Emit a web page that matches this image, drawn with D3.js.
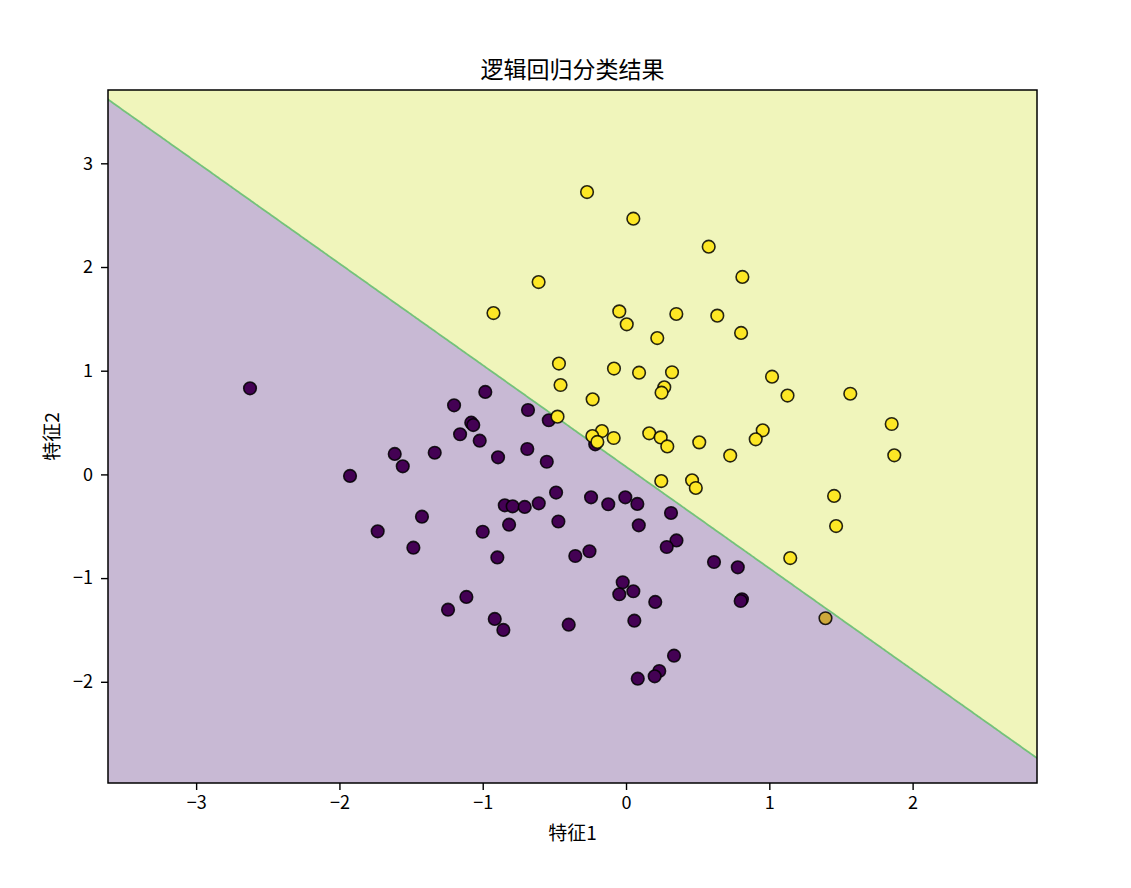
<!DOCTYPE html>
<html>
<head>
<meta charset="utf-8">
<script src="https://cdn.jsdelivr.net/npm/d3@7"></script>
<style>
  body { margin: 0; background: #fff; }
  text { font-family: "Noto Sans CJK SC", "DejaVu Sans", sans-serif; fill: #000; }
</style>
</head>
<body>
<svg width="1131" height="888"></svg>
<script>
// points of class 1 (yellow)
const class1X = [-0.272, 0.051, 0.577, 0.812, -0.610, -0.925, -0.047, 0.005, 0.351, 0.637,
  0.803, 0.218, -0.468, -0.084, 0.091, 0.321, 1.019, 0.267, 0.248, -0.457,
  1.565, 1.127, -0.233, -0.478, 1.854, 1.872, -0.168, -0.235, -0.200, -0.086,
  0.162, 0.242, 0.288, 0.511, 0.954, 0.905, 0.727, 0.246, 0.461, 0.487,
  1.452, 1.466, 1.146]
const class1Y = [2.723, 2.466, 2.196, 1.904, 1.855, 1.556, 1.572, 1.447, 1.547, 1.531,
  1.364, 1.315, 1.069, 1.021, 0.981, 0.985, 0.942, 0.840, 0.788, 0.862,
  0.778, 0.760, 0.724, 0.557, 0.486, 0.184, 0.418, 0.370, 0.313, 0.351,
  0.396, 0.357, 0.270, 0.309, 0.425, 0.338, 0.182, -0.064, -0.057, -0.131,
  -0.208, -0.498, -0.807]
// points of class 0 (purple)
const class0X = [-2.624, -1.926, -1.614, -1.558, -1.335, -1.200, -1.158, -1.080, -1.066, -1.021,
  -0.982, -0.893, -0.689, -0.684, -0.539, -0.553, -0.215, -0.488, -0.244, -0.124,
  -0.005, 0.079, -0.472, 0.089, 0.314, 0.352, 0.284, -0.255, -0.354, 0.614,
  0.780, -0.846, -0.791, -0.707, -0.609, -0.816, -1.424, -1.000, -1.733, -1.484,
  -0.898, -0.023, 0.051, -0.047, 0.204, 0.809, 0.800, -1.114, -1.242, -0.916,
  -0.856, -0.400, 0.058, 0.335, 0.232, 0.200, 0.082]
const class0Y = [0.830, -0.015, 0.197, 0.078, 0.209, 0.666, 0.387, 0.499, 0.476, 0.325,
  0.795, 0.165, 0.245, 0.621, 0.522, 0.122, 0.290, -0.175, -0.221, -0.288,
  -0.221, -0.285, -0.454, -0.491, -0.372, -0.637, -0.700, -0.741, -0.787, -0.845,
  -0.896, -0.298, -0.308, -0.314, -0.279, -0.485, -0.408, -0.553, -0.549, -0.707,
  -0.801, -1.040, -1.127, -1.156, -1.230, -1.204, -1.221, -1.182, -1.305, -1.394,
  -1.500, -1.449, -1.411, -1.748, -1.896, -1.947, -1.970]
// one point drawn with a blended colour
const mixedX = [1.392]
const mixedY = [-1.387]

// logistic model: p = sigmoid(w1*x + w2*y + b)
const coef = [2.90, 2.96]
const intercept = -0.219

const xTicks = [-3, -2, -1, 0, 1, 2]
const yTicks = [-2, -1, 0, 1, 2, 3]

let svg = d3.select('svg')
let margin = {top: 90, bottom: 105, left: 108, right: 94}
let width = svg.attr('width') - margin.left - margin.right
let height = svg.attr('height') - margin.top - margin.bottom

let xScale = d3.scaleLinear().domain([-3.615, 2.868]).range([margin.left, margin.left + width])
let yScale = d3.scaleLinear().domain([-2.976, 3.707]).range([margin.top + height, margin.top])

svg.append('clipPath').attr('id', 'clip')
    .append('rect')
    .attr('x', margin.left).attr('y', margin.top)
    .attr('width', width).attr('height', height)

let plot = svg.append('g').attr('clip-path', 'url(#clip)')

// yellow background (class 1)
plot.append('rect')
    .attr('x', margin.left).attr('y', margin.top)
    .attr('width', width).attr('height', height)
    .attr('fill', '#f0f5bb')

// decision region of class 0 from a grid, like a meshgrid + contourf
let step = 0.02
let gx0 = -3.8, gy0 = -3.2
let nx = Math.ceil((3.1 - gx0) / step), ny = Math.ceil((3.9 - gy0) / step)
let grid = new Array(nx * ny)
for (let j = 0; j < ny; j++) {
    for (let i = 0; i < nx; i++) {
        let gx = gx0 + i * step, gy = gy0 + j * step
        let p = 1 / (1 + Math.exp(-(coef[0] * gx + coef[1] * gy + intercept)))
        grid[j * nx + i] = 1 - p
    }
}
let contour = d3.contours().size([nx, ny]).thresholds([0.5])(grid)
let toPixels = d3.geoTransform({
    point: function(px, py) {
        this.stream.point(xScale(gx0 + (px - 0.5) * step), yScale(gy0 + (py - 0.5) * step))
    }
})
plot.selectAll('path.region')
    .data(contour)
    .enter()
    .append('path')
    .attr('class', 'region')
    .attr('d', d3.geoPath(toPixels))
    .attr('fill', '#c8b9d4')
    .attr('stroke', '#74c27a')
    .attr('stroke-width', 1.8)

// scatter points
function drawPoints(xs, ys, color) {
    plot.append('g')
        .selectAll('circle')
        .data(xs.map((v, i) => [v, ys[i]]))
        .enter()
        .append('circle')
        .attr('cx', d => xScale(d[0]))
        .attr('cy', d => yScale(d[1]))
        .attr('r', 6.3)
        .attr('fill', color)
        .attr('stroke', '#000')
        .attr('stroke-opacity', 0.85)
        .attr('stroke-width', 1.6)
}
drawPoints(class0X, class0Y, '#440154')
drawPoints(class1X, class1Y, '#fde725')
drawPoints(mixedX, mixedY, '#cda83a')

// frame
svg.append('rect')
    .attr('x', margin.left).attr('y', margin.top)
    .attr('width', width).attr('height', height)
    .attr('fill', 'none')
    .attr('stroke', '#000')
    .attr('stroke-width', 1.5)

// axes
let xAxis = svg.append('g')
    .attr('transform', 'translate(0, ' + (margin.top + height) + ')')
    .call(d3.axisBottom(xScale).tickValues(xTicks).tickFormat(d3.format('d'))
        .tickSize(7).tickSizeOuter(0).tickPadding(6))
let yAxis = svg.append('g')
    .attr('transform', 'translate(' + margin.left + ', 0)')
    .call(d3.axisLeft(yScale).tickValues(yTicks).tickFormat(d3.format('d'))
        .tickSize(7).tickSizeOuter(0).tickPadding(8))
;[xAxis, yAxis].forEach(a => {
    a.select('.domain').remove()
    a.selectAll('line').attr('stroke', '#000').attr('stroke-width', 1.4)
    a.selectAll('text').attr('font-size', 18).attr('font-family', '"Noto Sans CJK SC", sans-serif')
})

// labels
svg.append('text')
    .attr('text-anchor', 'middle')
    .attr('x', margin.left + width / 2)
    .attr('y', 78)
    .attr('font-size', 23)
    .text('逻辑回归分类结果')
svg.append('text')
    .attr('text-anchor', 'middle')
    .attr('x', margin.left + width / 2)
    .attr('y', 840)
    .attr('font-size', 19)
    .text('特征1')
svg.append('text')
    .attr('text-anchor', 'middle')
    .attr('transform', 'translate(59, ' + (margin.top + height / 2) + ') rotate(-90)')
    .attr('font-size', 19)
    .text('特征2')
</script>
</body>
</html>
